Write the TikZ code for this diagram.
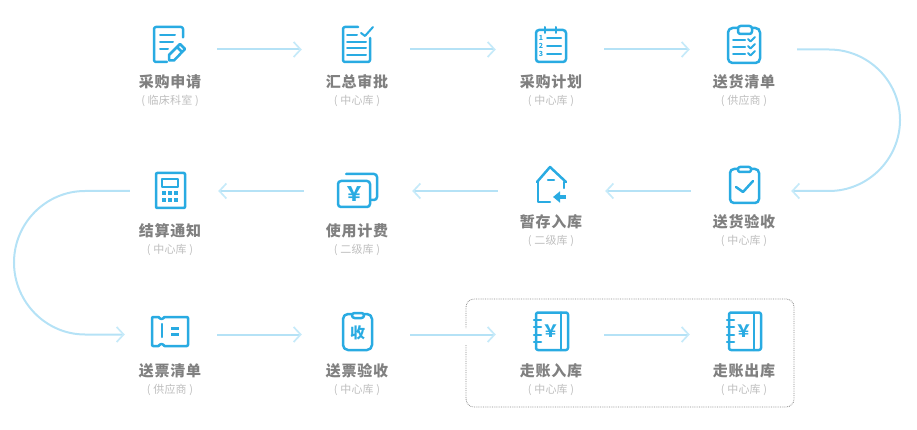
\documentclass[tikz,border=0pt]{standalone}
\usepackage{fontspec}
\usepackage{tikz}
\usetikzlibrary{arrows.meta,positioning,calc}
\newfontfamily\cjk[LetterSpace=5]{Noto Sans CJK SC}
\newfontfamily\cjksub[LetterSpace=2]{Noto Sans CJK SC}
\newfontfamily\cjkplain{Noto Sans CJK SC}
\definecolor{Sky}{HTML}{29ABE2}
\definecolor{Flow}{HTML}{B5E2F6}
\definecolor{FlowTip}{HTML}{C6EAF9}
\definecolor{Title}{HTML}{808080}
\definecolor{Sub}{HTML}{BEBEBE}
\definecolor{Frame}{HTML}{8A8A8A}
\tikzset{
  anchorbox/.style={minimum width=36pt,minimum height=36pt,inner sep=0pt},
  ttl/.style={font=\cjk\bfseries\fontsize{15}{16}\selectfont,text=Title,inner sep=0pt},
  subttl/.style={font=\cjksub\fontsize{11}{12}\selectfont,text=Sub,inner sep=0pt},
  flow/.style={draw=Flow,line width=2pt,-{Straight Barb[length=7pt,width=15pt,line width=1.7pt,color=FlowTip]}},
  ic/.style={draw=Sky,line width=2.5pt,line cap=round,line join=round},
  icthin/.style={ic,line width=2pt},
  icf/.style={fill=Sky,draw=none},
  icmark/.style={text=Sky,inner sep=0pt,font=\cjkplain\bfseries\fontsize{#1}{#1}\selectfont},
  dotbox/.style={draw=Frame,line width=.8pt,densely dotted,rounded corners=8pt},
  % one icon per step, drawn round the step's anchor
  formicon/.pic={
    \draw[ic,rounded corners=2pt] (13,-12) -- (13,-22.5) -- (-16,-22.5) -- (-16,12.5) -- (-3,12.5);
    \draw[icthin] (-10,-14.5) -- (5,-14.5) (-10,-7.5) -- (3,-7.5) (-10,-.5) -- (-2,-.5);
    \draw[ic] (-1,11) -- (-1,5.5) -- (10,-5.5) -- (15,-.5) -- (4,11) -- cycle (7,-2.5) -- (12,2.5);
  },
  checkicon/.pic={
    \draw[ic,rounded corners=2pt] (1,-22.5) -- (-14,-22.5) -- (-14,12.5) -- (13,12.5) -- (13,-11.5);
    \draw[icthin] (4,-16.5) -- (8,-13.5) -- (16,-22.5);
    \draw[icthin] (-10,-14.5) -- (0,-14.5) (-10,-7.5) -- (9,-7.5) (-10,-1.5) -- (9,-1.5) (-10,5.5) -- (9,5.5);
  },
  planicon/.pic={
    \draw[ic,rounded corners=3pt] (-15,-19.5) rectangle (15,12.5);
    \draw[icthin] (-6,-22.5) -- (-6,-16.5) (5,-22.5) -- (5,-16.5) (-3,-19.5) -- (2,-19.5);
    \draw[icthin] (-4,-11.5) -- (10,-11.5) (-4,-3.5) -- (10,-3.5) (-4,4.5) -- (10,4.5);
    \node[icmark=7] (n1) at (-10,-11.5) {1};
    \node[icmark=7] (n2) at (-10,-3.5) {2};
    \node[icmark=7] (n3) at (-10,4.5) {3};
  },
  listicon/.pic={
    \draw[ic,rounded corners=4.5pt] (-16,-21.5) rectangle (16,13.5);
    \draw[ic,fill=white,rounded corners=2.5pt] (-6,-23.5) rectangle (8,-15.5);
    \draw[icthin] (-11,-9.5) -- (1,-9.5) (-11,-2.5) -- (1,-2.5) (-11,4.5) -- (1,4.5);
    \draw[icthin] (4,-10.5) -- (6.5,-8) -- (11,-12.5) (4,-3.5) -- (6.5,-1) -- (11,-5.5) (4,3.5) -- (6.5,6) -- (11,1.5);
  },
  calcicon/.pic={
    \draw[ic,rounded corners=1pt] (-14,-18) rectangle (15,17);
    \draw[icthin] (-8,-12) rectangle (8,-4);
    \foreach \px in {-6,0,6} \foreach \py in {2,9}
      \fill[icf] (\px-2,\py-2) rectangle (\px+2,\py+2);
  },
  moneyicon/.pic={
    \draw[ic,rounded corners=3pt] (-11,-17) -- (20,-17) -- (20,9) -- (14,9);
    \draw[ic,rounded corners=3pt] (-19,-10) rectangle (13,16);
    \node[icmark=20] (yen) at (-3,3) {￥};
  },
  houseicon/.pic={
    \draw[ic] (-14,-9) -- (-1,-24) -- (15,-9);
    \draw[ic] (-13,-9) -- (-13,11) -- (-1,11) (13,-9) -- (13,-3);
    \draw[ic] (-3,-11) -- (3,-11);
    \draw[Sky,line width=3.2pt,-{Triangle[length=7pt,width=11pt]}] (15,6) -- (2,6);
  },
  tickicon/.pic={
    \draw[ic,rounded corners=4pt] (-14,-22) rectangle (15,12);
    \draw[ic,fill=white,rounded corners=2pt] (-6,-24) rectangle (7,-19);
    \draw[ic] (-8,-4) -- (-1,1) -- (9,-10);
  },
  ticketicon/.pic={
    \draw[ic,rounded corners=1pt] (-18,-17.5) -- (-10.5,-17.5) arc[start angle=180,end angle=360,radius=2pt] -- (18,-17.5) -- (18,11.5) -- (-6.5,11.5) arc[start angle=0,end angle=180,radius=2pt] -- (-18,11.5) -- cycle;
    \draw[ic] (-8,-10.5) -- (-8,2.5);
    \draw[ic,line width=3pt,line cap=butt] (1,-6.5) -- (9,-6.5) (1,-.5) -- (9,-.5);
  },
  stampicon/.pic={
    \draw[ic,rounded corners=5pt] (-14,-20.5) rectangle (15,15.5);
    \draw[ic,fill=white,rounded corners=2.5pt] (-5,-21.5) rectangle (7,-16.5);
    \node[icmark=15] (shou) at (.5,-1.5) {收};
  },
  bookicon/.pic={
    \draw[ic,rounded corners=2pt] (-15,-22) rectangle (17,15.5);
    \draw[ic] (10,-22) -- (10,15.5);
    \draw[ic] (-17,-14.5) -- (-10,-14.5) (-17,-7.5) -- (-10,-7.5) (-17,.5) -- (-10,.5) (-17,7.5) -- (-10,7.5);
    \node[icmark=17] (yen) at (-.5,-3.5) {￥};
  }
}
\begin{document}
\begin{tikzpicture}[x=1pt,y=-1pt]
  \useasboundingbox (0,0) rectangle (917,430);
  % first row
  \node[anchorbox] (apply) at (170,49.5) {}; \pic at (apply) {formicon};
  \node[ttl] (applyT) at (170,81.5) {采购申请};
  \node[subttl] (applyS) at (170,101) {( 临床科室 )};
  \node[anchorbox] (sum) at (357,49.5) {}; \pic at (sum) {checkicon};
  \node[ttl] (sumT) at (357,81.5) {汇总审批};
  \node[subttl] (sumS) at (357,101) {( 中心库 )};
  \node[anchorbox] (plan) at (551,49.5) {}; \pic at (plan) {planicon};
  \node[ttl] (planT) at (551,81.5) {采购计划};
  \node[subttl] (planS) at (551,101) {( 中心库 )};
  \node[anchorbox] (list) at (744,49.5) {}; \pic at (list) {listicon};
  \node[ttl] (listT) at (744,81.5) {送货清单};
  \node[subttl] (listS) at (744,101) {( 供应商 )};
  % second row
  \node[anchorbox] (check) at (744,191) {}; \pic at (check) {tickicon};
  \node[ttl] (checkT) at (744,221.5) {送货验收};
  \node[subttl] (checkS) at (744,241) {( 中心库 )};
  \node[anchorbox] (store) at (551,191) {}; \pic at (store) {houseicon};
  \node[ttl] (storeT) at (551,221.5) {暂存入库};
  \node[subttl] (storeS) at (551,241) {( 二级库 )};
  \node[anchorbox] (use) at (357,191) {}; \pic at (use) {moneyicon};
  \node[ttl] (useT) at (357,231) {使用计费};
  \node[subttl] (useS) at (357,250) {( 二级库 )};
  \node[anchorbox] (settle) at (170,191) {}; \pic at (settle) {calcicon};
  \node[ttl] (settleT) at (170,231) {结算通知};
  \node[subttl] (settleS) at (170,250) {( 中心库 )};
  % third row
  \node[anchorbox] (bill) at (170,334.5) {}; \pic at (bill) {ticketicon};
  \node[ttl] (billT) at (170,370.5) {送票清单};
  \node[subttl] (billS) at (170,390) {( 供应商 )};
  \node[anchorbox] (verify) at (357,334.5) {}; \pic at (verify) {stampicon};
  \node[ttl] (verifyT) at (357,370.5) {送票验收};
  \node[subttl] (verifyS) at (357,390) {( 中心库 )};
  \node[anchorbox] (in) at (551,334.5) {}; \pic at (in) {bookicon};
  \node[ttl] (inT) at (551,370.5) {走账入库};
  \node[subttl] (inS) at (551,390) {( 中心库 )};
  \node[anchorbox] (out) at (744,334.5) {}; \pic at (out) {bookicon};
  \node[ttl] (outT) at (744,370.5) {走账出库};
  \node[subttl] (outS) at (744,390) {( 中心库 )};
  % connectors
  \draw[flow] ([xshift=29pt]apply.east) -- ([xshift=-37pt]sum.west);
  \draw[flow] ([xshift=35pt]sum.east) -- ([xshift=-37pt]plan.west);
  \draw[flow] ([xshift=35pt]plan.east) -- ([xshift=-36pt]list.west);
  \draw[flow] ([xshift=35pt]list.east) -- (829,49.5) .. controls (868,49.5) and (900,81) .. (900,120) .. controls (900,159) and (868,191) .. (829,191) -- ([xshift=29pt]check.east);
  \draw[flow] ([xshift=-35pt]check.west) -- ([xshift=36pt]store.east);
  \draw[flow] ([xshift=-35pt]store.west) -- ([xshift=37pt]use.east);
  \draw[flow] ([xshift=-35pt]use.west) -- ([xshift=30pt]settle.east);
  \draw[flow] ([xshift=-22pt]settle.west) -- (85,191) .. controls (46,191) and (14,223) .. (14,262.5) .. controls (14,302) and (46,334.5) .. (85,334.5) -- ([xshift=-27pt]bill.west);
  \draw[flow] ([xshift=29pt]bill.east) -- ([xshift=-37pt]verify.west);
  \draw[flow] ([xshift=35pt]verify.east) -- ([xshift=-37pt]in.west);
  \draw[flow] ([xshift=35pt]in.east) -- ([xshift=-36pt]out.west);
  \draw[dotbox] (466,345) -- (466,407) -- (794,407) -- (794,299) -- (466,299) -- (466,328);
\end{tikzpicture}
\end{document}
